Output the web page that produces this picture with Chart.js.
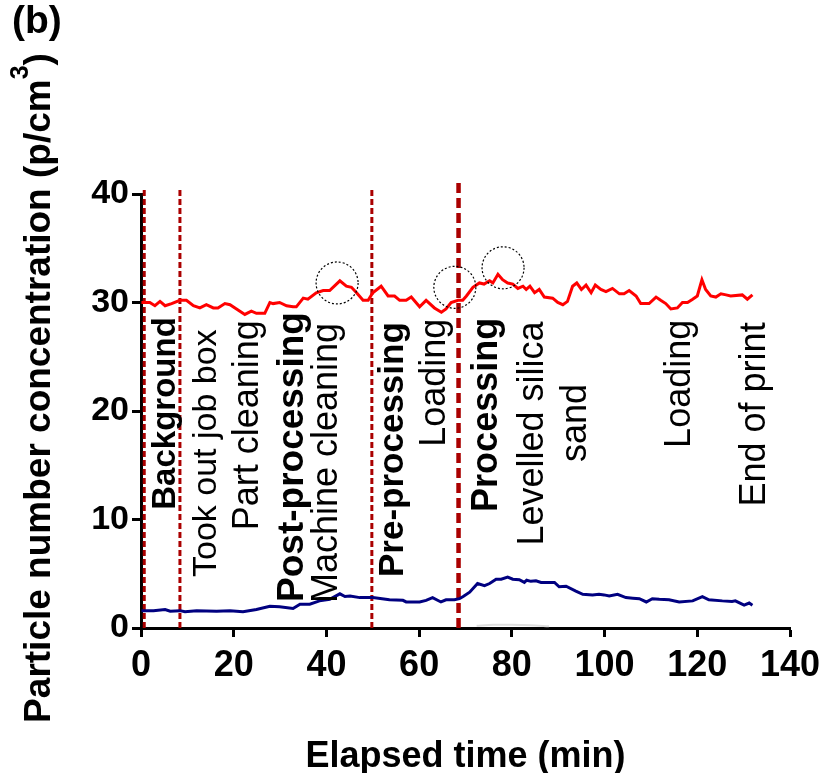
<!DOCTYPE html>
<html>
<head>
<meta charset="utf-8">
<script src="https://cdn.jsdelivr.net/npm/chart.js@4.4.1/dist/chart.umd.min.js"></script>
<style>
  body { margin: 0; background: #fff; }
  canvas { display: block; }
</style>
</head>
<body>
<canvas id="chartId" width="822" height="773"></canvas>
<script>
// Particle number concentration over the print job

const FONT = '"Liberation Sans", Arial, Helvetica, sans-serif';

const xTicks = [0, 20, 40, 60, 80, 100, 120, 140];
const yTicks = [0, 10, 20, 30, 40];

// upper trace (red)
const redTime = [0.1, 1.9, 3.0, 4.1, 5.2, 6.6, 8.4, 9.8, 11.3, 12.7, 14.1, 15.6, 16.6, 18.1, 19.2, 20.6,
  22.4, 23.8, 24.9, 26.7, 27.8, 28.5, 29.9, 31.4, 32.8, 33.5, 35.0, 36.0, 37.8, 39.3, 40.7, 42.9,
  44.3, 45.4, 46.5, 47.9, 49.0, 50.0, 51.8, 53.3, 54.7, 55.8, 57.2, 58.3, 60.1, 61.5, 63.3, 64.8,
  65.8, 66.9, 68.4, 69.4, 70.2, 71.6, 73.0, 74.0, 75.2, 75.9, 77.0, 78.0, 79.1, 80.2, 81.3, 82.4,
  83.1, 83.9, 84.9, 85.9, 87.0, 88.8, 89.9, 91.0, 92.0, 93.1, 94.0, 95.0, 96.0, 97.1, 98.0, 99.2,
  100.3, 101.7, 103.2, 104.2, 105.3, 106.8, 107.8, 109.6, 111.1, 112.1, 113.2, 114.3, 115.7, 116.8,
  117.9, 119.0, 120.0, 121.0, 121.8, 122.9, 124.0, 125.1, 126.2, 127.2, 129.7, 130.8, 131.9];
const redConc = [30.0, 30.0, 29.7, 30.1, 29.7, 29.9, 30.2, 30.2, 29.7, 29.5, 29.8, 29.5, 29.5, 29.9, 29.8, 29.4,
  28.9, 29.2, 29.0, 29.0, 30.0, 29.9, 30.0, 29.7, 29.6, 29.6, 30.4, 30.3, 30.9, 31.1, 31.1, 32.0,
  31.5, 31.4, 30.9, 30.2, 30.2, 30.9, 31.5, 30.6, 30.6, 30.2, 30.2, 30.5, 29.6, 30.2, 29.5, 29.1,
  29.4, 30.0, 30.2, 30.2, 30.6, 31.4, 31.8, 31.7, 32.0, 31.8, 32.6, 32.1, 31.8, 31.7, 31.3, 31.5,
  31.2, 31.5, 30.9, 31.2, 30.5, 30.4, 30.0, 29.8, 30.1, 31.5, 31.8, 31.2, 31.6, 30.9, 31.6, 31.2,
  31.0, 31.3, 30.8, 30.8, 31.1, 30.6, 29.9, 29.9, 30.5, 30.2, 29.9, 29.4, 29.5, 30.0,
  30.0, 30.3, 30.6, 32.1, 31.2, 30.6, 30.5, 30.8, 30.7, 30.6, 30.7, 30.3, 30.7];

// lower trace (navy)
const blueTime = [0.1, 2.7, 5.2, 6.3, 8.4, 9.5, 12.0, 16.3, 19.2, 22.0, 24.9, 27.8, 29.9, 32.8, 34.3, 36.4,
  38.5, 40.7, 42.9, 44.0, 45.1, 47.2, 50.0, 53.6, 56.5, 57.2, 60.1, 61.5, 62.9, 64.7, 65.8, 67.6,
  68.7, 69.5, 70.9, 72.6, 74.1, 75.2, 76.6, 77.7, 79.1, 80.2, 81.6, 82.7, 83.2, 84.1, 85.2, 86.3,
  89.2, 90.2, 91.7, 93.8, 95.3, 97.4, 98.8, 99.9, 101.0, 102.8, 104.6, 106.1, 107.5, 109.0, 110.3,
  111.8, 113.9, 116.1, 119.0, 121.1, 122.5, 125.4, 127.5, 128.2, 130.1, 131.2, 131.9];
const blueConc = [1.6, 1.6, 1.7, 1.55, 1.6, 1.5, 1.6, 1.55, 1.6, 1.5, 1.7, 2.0, 1.95, 1.8, 2.2, 2.2,
  2.5, 2.65, 3.15, 2.9, 2.95, 2.8, 2.8, 2.6, 2.55, 2.4, 2.4, 2.55, 2.8, 2.4, 2.6, 2.6,
  2.7, 2.9, 3.3, 4.1, 3.9, 4.1, 4.5, 4.5, 4.7, 4.5, 4.45, 4.2, 4.4, 4.3, 4.35, 4.2,
  4.2, 3.8, 3.85, 3.4, 3.1, 3.05, 3.1, 3.05, 2.95, 3.1, 2.8, 2.75, 2.7, 2.4, 2.7,
  2.65, 2.6, 2.4, 2.5, 2.9, 2.6, 2.5, 2.45, 2.5, 2.1, 2.3, 2.1];

// faint trace just above the axis
const greyTime = [72.4, 76.0, 80.0, 84.0, 88.0];
const greyConc = [0.2, 0.3, 0.3, 0.25, 0.15];

// phase boundaries, the last one is the start of printing
const eventTimes = [0.7, 8.4, 49.8, 68.5];

// circled peaks
const peakTimes = [42.3, 67.7, 78.1];
const peakConc = [31.8, 31.4, 33.2];

// activity notes
const noteText = ['Background', 'Took out job box', 'Part cleaning', 'Post-processing', 'Machine cleaning',
  'Pre-processing', 'Loading', 'Processing', 'Levelled silica', 'sand', 'Loading', 'End of print'];
const noteTime = [7.3, 16.2, 25.3, 35.0, 42.2, 56.6, 65.6, 76.7, 86.8, 96.1, 118.4, 134.6];
const noteConc = [10.9, 4.7, 9.0, 2.4, 2.3, 4.7, 16.7, 10.7, 7.6, 15.3, 16.6, 11.2];
const noteBold = [true, false, false, true, false, true, false, true, false, false, false, false];
const noteSize = [33, 34, 36, 37, 36, 35, 36, 36, 36, 36, 36, 36];

const toPoints = (xs, ys) => xs.map((x, i) => ({ x: x, y: ys[i] }));

function upText(ctx, str, px, py, font) {
  ctx.save();
  ctx.translate(px, py);
  ctx.rotate(-Math.PI / 2);
  ctx.font = font;
  ctx.textAlign = 'left';
  ctx.textBaseline = 'alphabetic';
  ctx.fillText(str, 0, 0);
  ctx.restore();
}

const overlay = {
  id: 'overlay',
  beforeDatasetsDraw(chart) {
    const { ctx, scales: { x, y } } = chart;
    ctx.save();
    ctx.strokeStyle = '#aa0000';
    eventTimes.forEach((t, i) => {
      const heavy = i === eventTimes.length - 1;
      const px = x.getPixelForValue(t);
      ctx.lineWidth = heavy ? 4.5 : 3;
      ctx.setLineDash(heavy ? [10, 5] : [6, 3]);
      ctx.beginPath();
      ctx.moveTo(px, y.getPixelForValue(0));
      ctx.lineTo(px, y.getPixelForValue(heavy ? 41.1 : 40.5));
      ctx.stroke();
    });
    ctx.restore();
  },
  afterDatasetsDraw(chart) {
    const { ctx, scales: { x, y } } = chart;
    ctx.save();
    ctx.strokeStyle = '#000';
    ctx.lineWidth = 1.2;
    ctx.setLineDash([2, 2]);
    peakTimes.forEach((t, i) => {
      ctx.beginPath();
      ctx.arc(x.getPixelForValue(t), y.getPixelForValue(peakConc[i]), 21, 0, Math.PI * 2);
      ctx.stroke();
    });
    ctx.setLineDash([]);
    ctx.fillStyle = '#000';
    noteText.forEach((str, i) => {
      const font = (noteBold[i] ? 'bold ' : '') + noteSize[i] + 'px ' + FONT;
      upText(ctx, str, x.getPixelForValue(noteTime[i]), y.getPixelForValue(noteConc[i]), font);
    });
    ctx.restore();
  },
  afterDraw(chart) {
    const { ctx, chartArea } = chart;
    ctx.save();
    ctx.fillStyle = '#000';

    ctx.font = 'bold 39px ' + FONT;
    ctx.textAlign = 'left';
    ctx.textBaseline = 'alphabetic';
    ctx.fillText('(b)', 12, 33);

    ctx.font = 'bold 36px ' + FONT;
    ctx.textAlign = 'center';
    ctx.fillText('Elapsed time (min)', (chartArea.left + chartArea.right) / 2, 767);

    // y title with superscript
    const main = 'Particle number concentration (p/cm';
    const big = 'bold 37px ' + FONT;
    const small = 'bold 25px ' + FONT;
    ctx.font = big;
    const w1 = ctx.measureText(main).width;
    const w3 = ctx.measureText(')').width;
    ctx.font = small;
    const w2 = ctx.measureText('3').width;
    const total = w1 + w2 + w3;
    ctx.translate(50, 388);
    ctx.rotate(-Math.PI / 2);
    ctx.textAlign = 'left';
    let cx = -total / 2;
    ctx.font = big;
    ctx.fillText(main, cx, 0);
    cx += w1;
    ctx.font = small;
    ctx.fillText('3', cx, -22);
    cx += w2;
    ctx.font = big;
    ctx.fillText(')', cx, 0);
    ctx.restore();
  }
};

const axisGrid = {
  drawOnChartArea: false,
  drawTicks: true,
  tickLength: 9,
  tickWidth: 3,
  tickColor: '#000',
  color: '#000'
};
const axisBorder = { display: true, color: '#000', width: 3 };

const chrt = document.getElementById('chartId').getContext('2d');
const chartId = new Chart(chrt, {
  type: 'line',
  data: {
    datasets: [{
      label: 'Upper',
      data: toPoints(redTime, redConc),
      borderColor: '#ff0000',
      borderWidth: 3,
      pointRadius: 0,
      tension: 0
    }, {
      label: 'Lower',
      data: toPoints(blueTime, blueConc),
      borderColor: '#000080',
      borderWidth: 3,
      pointRadius: 0,
      tension: 0
    }, {
      label: 'Faint',
      data: toPoints(greyTime, greyConc),
      borderColor: '#dedede',
      borderWidth: 2,
      pointRadius: 0,
      tension: 0.3
    }]
  },
  options: {
    responsive: false,
    animation: false,
    layout: { padding: { top: 194, right: 32, left: 0, bottom: 0 } },
    plugins: {
      legend: { display: false },
      tooltip: { enabled: false }
    },
    scales: {
      x: {
        type: 'linear',
        min: 0,
        max: 140,
        afterFit(scale) {
          scale.height = 145;
          scale.paddingLeft = 0;
          scale.paddingRight = 0;
        },
        afterBuildTicks(scale) { scale.ticks = xTicks.map(v => ({ value: v })); },
        ticks: {
          color: '#000',
          padding: 7,
          maxRotation: 0,
          font: { family: FONT, size: 36, weight: 'bold' }
        },
        grid: axisGrid,
        border: axisBorder
      },
      y: {
        min: 0,
        max: 40,
        afterFit(scale) {
          scale.width = 141;
          scale.paddingTop = 0;
          scale.paddingBottom = 0;
        },
        afterBuildTicks(scale) { scale.ticks = yTicks.map(v => ({ value: v })); },
        ticks: {
          color: '#000',
          padding: 3,
          font: { family: FONT, size: 34, weight: 'bold' }
        },
        grid: axisGrid,
        border: axisBorder
      }
    }
  },
  plugins: [overlay]
});
</script>
</body>
</html>
